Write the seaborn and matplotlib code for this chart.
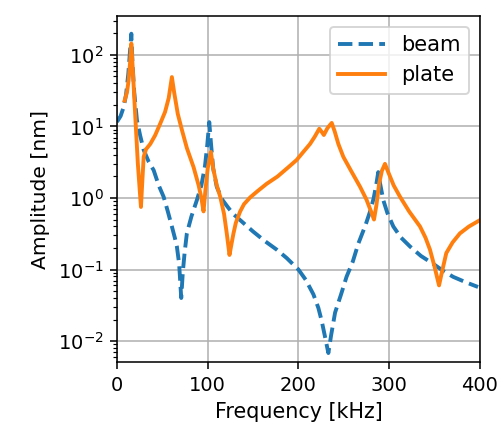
import matplotlib

matplotlib.use("Agg")

import matplotlib.pyplot as plt
import pandas as pd
import seaborn as sns

# values (frequency in kHz, amplitude in nm)
BEAM_FREQ = [
    0, 4, 7.3, 10, 12.5, 14.5, 15.8, 17, 19, 22, 25.5, 29.4, 35, 40.4, 46,
    51.4, 56, 60.5, 64, 66, 68.5, 70.8, 72.5, 74.5, 77, 82, 88, 93, 97, 99.5,
    101.7, 103.5, 106, 110, 116, 122, 128, 140, 150, 163, 176, 187, 200, 208,
    216.5, 222, 225.7, 229, 233, 236, 240.4, 247, 253, 260, 266, 274, 279,
    283, 286, 288, 290, 293.6, 298, 304.6, 313, 323, 335, 348.6, 360, 370.6,
    385, 398,
]
BEAM_AMP = [
    11.6, 14, 18.6, 28, 55, 120, 198, 80, 30, 12.2, 7.5, 4.7, 3.2, 2.45, 1.5,
    1.04, 0.65, 0.40, 0.27, 0.21, 0.12, 0.040, 0.09, 0.17, 0.32, 0.55, 0.93,
    1.5, 2.8, 5.5, 11.5, 6, 2.6, 1.43, 0.95, 0.75, 0.60, 0.44, 0.34, 0.25,
    0.19, 0.145, 0.10, 0.072, 0.045, 0.029, 0.019, 0.012, 0.0068, 0.012,
    0.025, 0.045, 0.079, 0.13, 0.23, 0.42, 0.65, 1.0, 1.6, 2.3, 1.6, 0.93,
    0.62, 0.40, 0.28, 0.21, 0.155, 0.12, 0.095, 0.079, 0.066, 0.057,
]

PLATE_FREQ = [
    8.4, 11, 12.8, 14.5, 15.8, 17.5, 20, 23, 26.4, 28, 29.4, 32, 36.7, 42,
    47.7, 53, 57, 60.5, 63, 67, 71.6, 77, 84.4, 90, 93, 95.4, 97.5, 100,
    103.5, 106, 110, 113.8, 118, 121, 124, 126, 128.4, 131, 135.8, 140,
    146.8, 155, 165, 177, 189, 198, 206, 212.8, 218, 223, 226, 228, 232,
    236.7, 240, 244, 249.5, 258, 268, 275, 280, 283.3, 286, 289, 292, 295.4,
    299, 305, 312, 322, 334, 340, 345, 350, 355, 358, 363, 370, 378, 388, 400,
]
PLATE_AMP = [
    23, 30, 44, 80, 144, 60, 15, 3, 0.75, 1.8, 3.76, 4.8, 5.7, 7.5, 11, 16,
    25, 49, 30, 15, 8.9, 5, 2.7, 1.5, 1.0, 0.65, 1.3, 2.6, 4.4, 2.6, 1.5,
    1.04, 0.6, 0.32, 0.16, 0.22, 0.32, 0.45, 0.65, 0.82, 1.02, 1.25, 1.58,
    2.0, 2.7, 3.4, 4.5, 5.7, 7.2, 9.3, 8.3, 7.6, 9.5, 11.2, 8.5, 5.7, 3.76,
    2.4, 1.43, 0.95, 0.65, 0.50, 0.8, 1.6, 2.4, 3.0, 2.3, 1.5, 1.04, 0.65,
    0.40, 0.28, 0.19, 0.11, 0.060, 0.09, 0.17, 0.24, 0.32, 0.40, 0.49,
]

SERIES = ["beam", "plate"]
COLORS = {"beam": "#1f77b4", "plate": "#ff7f0e"}


def build_frame() -> pd.DataFrame:
    beam = pd.DataFrame({"freq": BEAM_FREQ, "amp": BEAM_AMP, "series": "beam"})
    plate = pd.DataFrame({"freq": PLATE_FREQ, "amp": PLATE_AMP, "series": "plate"})
    return pd.concat([beam, plate], ignore_index=True)


def main() -> None:
    df = build_frame()

    fig = plt.figure(figsize=(503 / 140, 433 / 140), dpi=140)
    ax = fig.add_axes([0.2326, 0.164, 0.7214, 0.799])

    sns.lineplot(
        data=df,
        x="freq",
        y="amp",
        hue="series",
        style="series",
        hue_order=SERIES,
        style_order=SERIES,
        palette=COLORS,
        dashes={"beam": (3.7, 1.6), "plate": ""},
        estimator=None,
        sort=False,
        linewidth=2,
        ax=ax,
    )

    ax.set_yscale("log")
    ax.set_xlim(0, 400)
    ax.set_ylim(5.1e-3, 3.5e2)
    ax.set_xticks([0, 100, 200, 300, 400])
    ax.grid(True, which="major", color="#b0b0b0", linewidth=0.8)
    ax.set_xlabel("Frequency [kHz]", fontsize=10.6)
    ax.set_ylabel("Amplitude [nm]", fontsize=10.4)

    handles, labels = ax.get_legend_handles_labels()
    ax.legend(handles, labels, loc="upper right", title=None,
              fontsize=10.8, handlelength=2.2)

    fig.savefig("out.png", dpi=140)
    plt.close(fig)


if __name__ == "__main__":
    main()
